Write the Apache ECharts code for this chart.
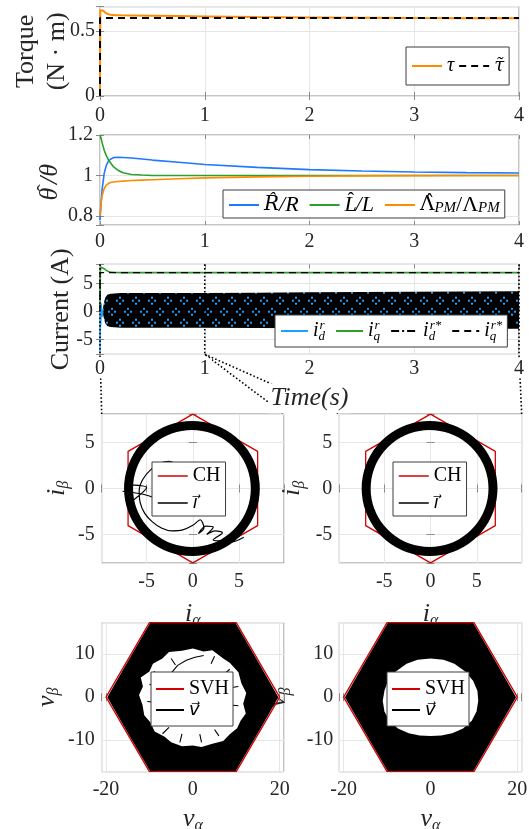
<!DOCTYPE html>
<html><head><meta charset="utf-8">
<script src="https://cdn.jsdelivr.net/npm/echarts@6/dist/echarts.min.js"></script>
<style>html,body{margin:0;padding:0;background:#fff}#c{width:529px;height:829px}</style>
</head><body><div id="c"></div>
<script>
// ---------------- data ----------------
// Panel 1: torque
const tTau = [0, 0.003, 0.006, 0.01, 0.02, 0.03, 0.05, 0.07, 0.1, 0.15, 0.2, 0.3, 0.5, 0.75, 1, 1.5, 2, 2.5, 3, 3.5, 4];
const tau = [0, 0.66, 0.675, 0.672, 0.664, 0.656, 0.642, 0.632, 0.625, 0.622, 0.621, 0.62, 0.618, 0.615, 0.612, 0.607, 0.604, 0.602, 0.6, 0.599, 0.598];
const tTauRef = [0, 0, 4];
const tauRef = [0, 0.6, 0.6];
// Panel 2: parameter estimates
const tEst = [0, 0.01, 0.02, 0.04, 0.06, 0.08, 0.1, 0.13, 0.17, 0.22, 0.3, 0.4, 0.5, 0.75, 1, 1.5, 2, 2.5, 3, 3.5, 4];
const rRatio = [0.78, 0.86, 0.93, 1.01, 1.05, 1.07, 1.08, 1.088, 1.09, 1.089, 1.086, 1.081, 1.076, 1.065, 1.054, 1.04, 1.029, 1.022, 1.017, 1.014, 1.012];
const lRatio = [1.2, 1.185, 1.162, 1.125, 1.098, 1.078, 1.063, 1.042, 1.026, 1.013, 1.005, 1.002, 1.0, 1.0, 1.0, 1.0, 1.0, 1.0, 1.0, 1.0, 1.0];
const lamRatio = [0.8, 0.86, 0.9, 0.935, 0.952, 0.96, 0.965, 0.968, 0.97, 0.972, 0.975, 0.977, 0.979, 0.984, 0.988, 0.993, 0.996, 0.998, 0.999, 1.0, 1.0];
// Panel 3: currents
const tId = [0, 0.001, 0.002, 0.003, 0.005, 0.008, 0.012, 0.02, 0.03];
const id = [0, -7.5, -2, -5, 0.5, -2.5, 1.5, -1, 0.5];
const tBand = [0.03, 0.04, 0.05, 0.07, 0.1, 0.2, 0.5, 1, 1.5, 2, 2.5, 3, 3.5, 4];
const bandUpper = [0.8, 1.8, 2.5, 3.0, 3.2, 3.35, 3.35, 3.35, 3.4, 3.45, 3.5, 3.55, 3.6, 3.65];
const bandLower = [-0.6, -1.5, -2.1, -2.6, -2.8, -2.9, -2.9, -2.9, -2.95, -3.0, -3.0, -3.05, -3.1, -3.1];
const tIq = [0, 0.002, 0.005, 0.01, 0.02, 0.04, 0.06, 0.08, 0.1, 0.15, 0.2, 0.5, 1, 2, 3, 4];
const iq = [0, 5, 8.0, 8.3, 8.1, 7.7, 7.4, 7.2, 7.1, 7.03, 7.0, 7.0, 7.0, 7.0, 7.0, 7.0];
const tIdRef = [0, 4];
const idRef = [0, 0];
const tIqRef = [0, 0, 4];
const iqRef = [0, 7.0, 7.0];
// Current hexagon (CH) and current trajectory
const chX = [0, 7, 7, 0, -7, -7, 0];
const chY = [8.083, 4.041, -4.041, -8.083, -4.041, 4.041, 8.083];
const ringX = [6.75, 6.646, 6.337, 5.832, 5.147, 4.303, 3.325, 2.243, 1.09, -0.1, -1.29, -2.443, -3.525, -4.503, -5.347, -6.032, -6.537, -6.846, -6.95, -6.846, -6.537, -6.032, -5.347, -4.503, -3.525, -2.443, -1.29, -0.1, 1.09, 2.243, 3.325, 4.303, 5.147, 5.832, 6.337, 6.646, 6.75];
const ringY = [0, 1.19, 2.343, 3.425, 4.403, 5.247, 5.932, 6.437, 6.746, 6.85, 6.746, 6.437, 5.932, 5.247, 4.403, 3.425, 2.343, 1.19, 0, -1.19, -2.343, -3.425, -4.403, -5.247, -5.932, -6.437, -6.746, -6.85, -6.746, -6.437, -5.932, -5.247, -4.403, -3.425, -2.343, -1.19, 0];
const transX = [0, -0.8, -1.8, -2.6, -3.6, -4.6, -5.4, -5.8, -5.7, -5.2, -4.4, -3.4, -2.3, -1.1, 0.0, 0.8, 1.2, 0.6, 1.4, 2.2, 1.5, 2.4, 3.2, 2.2, 3.0, 4.2, 5.5, null, -7.6, -5.5, -4.2, null, -7.3, -5.0, -6.6];
const transY = [0, 1.5, 2.6, 2.95, 2.7, 2.0, 1.0, -0.2, -1.5, -2.7, -3.6, -4.3, -4.6, -4.5, -4.0, -3.4, -4.3, -4.9, -4.1, -4.2, -5.0, -4.6, -4.8, -5.6, -5.7, -5.8, -5.3, null, -0.3, -0.6, -1.0, null, 0.4, 0.1, -1.4];
// Space vector hexagon (SVH) and voltage trajectory
const svhX = [20, 10, -10, -20, -10, 10, 20];
const svhY = [0, 17.32, 17.32, 0, -17.32, -17.32, 0];
const vFillX = [19.7, 15.4, 10.8, 9.8, -9.8, -10.8, -15.4, -19.7, -15.4, -10.8, -9.8, 9.8, 10.8, 15.4];
const vFillY = [0, 7.6, 15.6, 17.32, 17.32, 15.6, 7.6, 0, -7.6, -15.6, -17.32, -17.32, -15.6, -7.6];
const holeLX = [0, 2.5, 4.5, 7, 8.5, 10.5, 11.2, 12.3, 11.6, 12.2, 11, 10.2, 8.5, 7, 4.5, 2, 0, -2.5, -5, -6.5, -8.8, -9.8, -11.2, -11.6, -12.4, -11.5, -12, -10, -9.2, -7, -5.5, -2.5];
const holeLY = [11.3, 10.6, 10.9, 9.0, 8.0, 5.8, 3.2, 1.0, -1.5, -3.8, -5.5, -7.2, -8.6, -10.2, -10.8, -11.6, -11.2, -11.4, -10.5, -9.2, -8.0, -5.8, -4.2, -1.8, 0.5, 2.5, 4.6, 6.0, 7.8, 9.0, 10.5, 10.8];
const holeRX = [0, 3, 5.5, 8, 9.8, 10.8, 11, 10.6, 9.5, 7.5, 5, 2.5, 0, -2.5, -5, -7.5, -9.5, -10.6, -11, -10.6, -9.8, -8, -5.5, -3];
const holeRY = [9.0, 8.7, 7.8, 6.0, 3.8, 1.5, -0.8, -3.3, -5.5, -7.3, -8.4, -8.9, -9.0, -8.9, -8.4, -7.3, -5.5, -3.3, -0.8, 1.5, 3.8, 6.0, 7.8, 8.7];
const streakX = [-9, -7, null, -10, -8, null, -10.5, -8.5, null, -9.5, -7.5, null, -7, -5.5, null, -3, -2.5, null, 2, 1.6, null, 6, 5, null, 9, 7.5, null, 10.5, 8.6, null, 10.5, 8.6, null, 8.5, 7, null, 5, 4.2, null, -5, -4, null, -5, -3.5, -1.5, 0.5, 2.5];
const streakY = [6, 4.5, null, 3, 2.2, null, -1, -1.2, null, -5, -4, null, -8.5, -7, null, -10.5, -8.5, null, -10.5, -8.6, null, -9, -7.5, null, -6, -5, null, -2, -1.8, null, 2.5, 2.2, null, 6.5, 5.2, null, 9.5, 7.8, null, 9, 7.5, null, 5.6, 7.4, 8.6, 9.3, 9.7];
// Tick labels
const tTicks = [0, 1, 2, 3, 4];
const torqueTicks = [0, 0.5];
const estTicks = [0.8, 1, 1.2];
const curTicks = [-5, 0, 5];
const iTicks = [-5, 0, 5];
const vxTicks = [-20, 0, 20];
const vyTicks = [-10, 0, 10];

// ---------------- helpers ----------------
const pairs = (xs, ys) => xs.map((x, i) => (x === null ? '-' : [x, ys[i]]));
const FONT = 'Liberation Serif';
const MATHFONT = '"DejaVu Serif", "DejaVu Sans"';
const BORDER = '#8a8a8a';
const SPLIT = '#e6e6e6';
const TXT = '#262626';
const TICKFS = 20;
const C_ORANGE = '#ff8a00', C_BLUE = '#1f78ff', C_GREEN = '#2ca02c', C_RED = '#d40000', C_LBLUE = '#1e9fff';
function mkRich(fs) {
  return {
    it: {fontFamily: FONT, fontStyle: 'italic', fontSize: fs, color: '#000', lineHeight: fs + 4},
    itw: {fontFamily: FONT, fontStyle: 'italic', fontSize: fs, color: '#000', lineHeight: fs + 4, width: 3},
    hat: {fontFamily: FONT, fontSize: fs - 2, color: '#000', width: 8, verticalAlign: 'top', lineHeight: 12},
    acc: {fontFamily: MATHFONT, fontStyle: 'italic', fontSize: fs - 2, color: '#000'},
    rm: {fontFamily: FONT, fontSize: fs, color: '#000'},
    racc: {fontFamily: MATHFONT, fontSize: fs - 2, color: '#000'},
    sub: {fontFamily: FONT, fontStyle: 'italic', fontSize: Math.round(fs * 0.66), color: '#000', verticalAlign: 'bottom', lineHeight: 12},
    subs: {fontFamily: FONT, fontStyle: 'italic', fontSize: Math.round(fs * 0.66), color: '#000', verticalAlign: 'bottom', lineHeight: 12, width: 1},
    sup: {fontFamily: FONT, fontStyle: 'italic', fontSize: Math.round(fs * 0.66), color: '#000', verticalAlign: 'top', lineHeight: 12}
  };
}
const RICH = mkRich(20);
const LEG = {
  tau: '{it|τ}', tauRef: '{acc|τ̃}',
  R: '{acc|R̂}{it|/R}', L: '{itw|L}{hat|ˆ}{it|/L}', Lam: '{racc|Λ̂}{sub|PM}{rm|/Λ}{sub|PM}',
  id: '{it|i}{subs|d}{sup|r}', iq: '{it|i}{subs|q}{sup|r}', idRef: '{it|i}{subs|d}{sup|r*}', iqRef: '{it|i}{subs|q}{sup|r*}',
  CH: '{rm|CH}', ivec: '{acc|i⃗}', SVH: '{rm|SVH}', vvec: '{acc|v⃗}'
};
const fmt = ticks => v => (ticks.some(t => Math.abs(t - v) < 1e-9) ? String(v) : '');

function ax(gi, min, max, ticks, extra) {
  const o = {
    type: 'value', gridIndex: gi, min: min, max: max,
    axisLine: {show: false},
    axisTick: {show: true, inside: true, length: 4, lineStyle: {color: BORDER}},
    splitLine: {show: true, lineStyle: {color: SPLIT, width: 1}},
    axisLabel: {fontFamily: FONT, fontSize: TICKFS, color: TXT, margin: 8, formatter: fmt(ticks)}
  };
  return Object.assign(o, extra || {});
}
function merge(a, b) { return Object.assign({}, a, b); }
function lab(margin, ticks, extra) {
  return Object.assign({fontFamily: FONT, fontSize: TICKFS, color: TXT, margin: margin, formatter: fmt(ticks)}, extra || {});
}

const grids = [
  {left: 100, top: 6.7, width: 419, height: 89.3},
  {left: 100, top: 135, width: 419, height: 90},
  {left: 100, top: 264.3, width: 419, height: 90},
  {left: 101.7, top: 414, width: 182.3, height: 149},
  {left: 339.3, top: 414, width: 182.4, height: 149},
  {left: 101.7, top: 622.7, width: 182.3, height: 149},
  {left: 339.3, top: 622.7, width: 182.4, height: 149}
].map(g => Object.assign(g, {show: true, borderColor: BORDER, borderWidth: 1, backgroundColor: 'transparent',
  containLabel: false, outerBoundsMode: 'none'}));

const Y3 = [-7.7, 8.5];
const IX = [-9.85, 9.85], IY = [-8.1, 8.1], VX = [-21, 21], VY = [-17.32, 17.32];

const NFS = 26;
const nameRich = {
  it: {fontFamily: FONT, fontStyle: 'italic', fontSize: NFS, color: TXT, lineHeight: 30},
  thw: {fontFamily: FONT, fontStyle: 'italic', fontSize: NFS, color: TXT, lineHeight: 30, width: 4},
  hat: {fontFamily: FONT, fontSize: 22, color: TXT, width: 8, verticalAlign: 'top', lineHeight: 14},
  rm: {fontFamily: FONT, fontSize: NFS, color: TXT},
  sub: {fontFamily: FONT, fontStyle: 'italic', fontSize: 16, color: TXT, verticalAlign: 'bottom', lineHeight: 14}
};
function xname(n, gap) {
  return {name: n, nameLocation: 'middle', nameGap: gap,
    nameTextStyle: {fontFamily: FONT, fontSize: NFS, color: TXT, rich: nameRich}};
}
function yname(n, gap) {
  return {name: n, nameLocation: 'middle', nameGap: gap, nameRotate: 90, nameMoveOverlap: false,
    nameTextStyle: {fontFamily: FONT, fontSize: NFS, color: TXT, lineHeight: 31, rich: nameRich}};
}

const xAxes = [
  ax(0, 0, 4, tTicks, {position: 'bottom', axisLabel: lab(10, tTicks)}),
  ax(1, 0, 4, tTicks, {position: 'bottom', axisLabel: lab(7, tTicks)}),
  ax(2, 0, 4, tTicks, {position: 'bottom', axisLabel: {show: false}}),
  ax(2, 0, 4, tTicks, merge({position: 'bottom', z: 20, splitLine: {show: false}, axisTick: {show: false},
    axisLabel: lab(4, tTicks, {backgroundColor: '#fff', padding: [0, 2]})},
    {name: '{it|Time(s)}', nameLocation: 'middle', nameGap: 29,
     nameTextStyle: {fontFamily: FONT, fontSize: NFS, color: TXT, backgroundColor: '#fff', padding: [0, 2], rich: nameRich}})),
  ax(3, IX[0], IX[1], iTicks, merge({position: 'bottom', splitNumber: 4, axisLabel: lab(9, iTicks)}, xname('{it|i}{sub|α}', 36))),
  ax(4, IX[0], IX[1], iTicks, merge({position: 'bottom', splitNumber: 4, axisLabel: lab(9, iTicks)}, xname('{it|i}{sub|α}', 36))),
  ax(5, VX[0], VX[1], vxTicks, merge({position: 'bottom', splitNumber: 2, axisLabel: lab(8, vxTicks)}, xname('{it|v}{sub|α}', 32))),
  ax(6, VX[0], VX[1], vxTicks, merge({position: 'bottom', splitNumber: 2, axisLabel: lab(8, vxTicks)}, xname('{it|v}{sub|α}', 32)))
];
const yAxes = [
  ax(0, 0, 0.687, torqueTicks, merge({position: 'left', interval: 0.5, axisLabel: lab(5, torqueTicks)}, yname('Torque\n(N · m)', 27))),
  ax(1, 0.755, 1.2, estTicks, merge({position: 'left', splitNumber: 2, axisLabel: lab(7, estTicks)}, yname('{thw|θ}{hat|ˆ}{it|/θ}', 35))),
  ax(2, Y3[0], Y3[1], curTicks, merge({position: 'left', splitNumber: 3, axisLabel: lab(7, curTicks)}, yname('Current (A)', 23))),
  ax(3, IY[0], IY[1], iTicks, merge({position: 'left', splitNumber: 3, axisLabel: lab(7, iTicks)}, yname('{it|i}{sub|β}', 30))),
  ax(4, IY[0], IY[1], iTicks, merge({position: 'left', splitNumber: 3, axisLabel: lab(7, iTicks)}, yname('{it|i}{sub|β}', 32))),
  ax(5, VY[0], VY[1], vyTicks, merge({position: 'left', splitNumber: 3, axisLabel: lab(7, vyTicks)}, yname('{it|v}{sub|β}', 40))),
  ax(6, VY[0], VY[1], vyTicks, merge({position: 'left', splitNumber: 3, axisLabel: lab(6, vyTicks)}, yname('{it|v}{sub|β}', 46)))
];
// mirrored tick marks on top/right edges (box style)
const mirX = [[0, 0, 4, {}], [1, 0, 4, {}], [2, 0, 4, {}], [3, IX[0], IX[1], {splitNumber: 4}], [4, IX[0], IX[1], {splitNumber: 4}], [5, VX[0], VX[1], {splitNumber: 2}], [6, VX[0], VX[1], {splitNumber: 2}]];
mirX.forEach(m => xAxes.push(Object.assign({type: 'value', gridIndex: m[0], min: m[1], max: m[2], position: 'top',
  axisLine: {show: false}, splitLine: {show: false}, axisLabel: {show: false},
  axisTick: {show: true, inside: true, length: 4, lineStyle: {color: BORDER}}}, m[3])));
const mirY = [[0, 0, 0.687, {interval: 0.5}], [1, 0.755, 1.2, {splitNumber: 2}], [2, Y3[0], Y3[1], {splitNumber: 3}], [3, IY[0], IY[1], {splitNumber: 3}], [4, IY[0], IY[1], {splitNumber: 3}], [5, VY[0], VY[1], {splitNumber: 3}], [6, VY[0], VY[1], {splitNumber: 3}]];
mirY.forEach(m => yAxes.push(Object.assign({type: 'value', gridIndex: m[0], min: m[1], max: m[2], position: 'right',
  axisLine: {show: false}, splitLine: {show: false}, axisLabel: {show: false},
  axisTick: {show: true, inside: true, length: 4, lineStyle: {color: BORDER}}}, m[3])));

// pattern for the dense oscillation band (aliasing diamonds)
const pc = document.createElement('canvas');
pc.width = 16; pc.height = 22;
const pctx = pc.getContext('2d');
pctx.fillStyle = '#000'; pctx.fillRect(0, 0, 16, 22);
pctx.fillStyle = C_LBLUE;
const diamond = (cx, cy) => [[0, -3], [-3, 0], [3, 0], [0, 3]].forEach(d => pctx.fillRect(cx + d[0] - 1, cy + d[1] - 1, 2, 2));
diamond(8, 14.7); diamond(0, 3.7); diamond(16, 3.7);

function polySeries(name, xi, yi, xs, ys, fill, z) {
  return {
    name: name, type: 'custom', xAxisIndex: xi, yAxisIndex: yi, z: z || 2, data: [[xs[0], ys[0]]], silent: true,
    renderItem: (params, api) => ({
      type: 'polygon',
      shape: {points: xs.map((x, i) => api.coord([x, ys[i]]))},
      style: {fill: fill, stroke: null}
    })
  };
}
function lineS(name, xi, yi, data, color, width, type, extra) {
  return Object.assign({
    name: name, type: 'line', xAxisIndex: xi, yAxisIndex: yi, data: data,
    symbol: 'none', showSymbol: false, connectNulls: false, animation: false,
    lineStyle: {color: color, width: width, type: type || 'solid'}, itemStyle: {color: color}
  }, extra || {});
}

const bandXs = tBand.concat(tBand.slice().reverse());
const bandYs = bandUpper.concat(bandLower.slice().reverse());

const series = [
  lineS('tau', 0, 0, pairs(tTau, tau), C_ORANGE, 2),
  lineS('tauRef', 0, 0, pairs(tTauRef, tauRef), '#000', 2, [7, 5]),
  lineS('R', 1, 1, pairs(tEst, rRatio), C_BLUE, 1.6),
  lineS('L', 1, 1, pairs(tEst, lRatio), C_GREEN, 1.6),
  lineS('Lam', 1, 1, pairs(tEst, lamRatio), C_ORANGE, 1.6),
  lineS('id', 2, 2, pairs(tId, id), C_LBLUE, 1.2),
  lineS('iq', 2, 2, pairs(tIq, iq), C_GREEN, 1.6),
  polySeries('idBand', 2, 2, bandXs, bandYs, {image: pc, repeat: 'repeat'}, 3),
  lineS('idRef', 2, 2, pairs(tIdRef, idRef), '#000', 1.2, [8, 3, 2, 3], {z: 1}),
  lineS('iqRef', 2, 2, pairs(tIqRef, iqRef), '#000', 1.4, [7, 5], {z: 4}),
  lineS('CH', 4, 3, pairs(chX, chY), C_RED, 1.3),
  lineS('ivec', 4, 3, pairs(transX, transY), '#000', 1.2, 'solid', {smooth: 0.3}),
  lineS('ivec', 4, 3, pairs(ringX, ringY), '#000', 9, 'solid', {smooth: true}),
  lineS('CH', 5, 4, pairs(chX, chY), C_RED, 1.3),
  lineS('ivec', 5, 4, pairs(ringX, ringY), '#000', 9, 'solid', {smooth: true}),
  polySeries('vFill', 6, 5, vFillX, vFillY, '#000', 1),
  polySeries('vHole', 6, 5, holeLX, holeLY, '#fff', 1.5),
  lineS('vvec', 6, 5, pairs(streakX, streakY), '#000', 1.1, 'solid', {z: 2}),
  lineS('SVH', 6, 5, pairs(svhX, svhY), C_RED, 1.3, 'solid', {z: 3}),
  polySeries('vFill', 7, 6, vFillX, vFillY, '#000', 1),
  polySeries('vHole', 7, 6, holeRX, holeRY, '#fff', 1.5),
  lineS('SVH', 7, 6, pairs(svhX, svhY), C_RED, 1.3, 'solid', {z: 3})
];

const legBase = {
  backgroundColor: '#fff', borderColor: '#3c3c3c', borderWidth: 1,
  itemWidth: 30, itemHeight: 14, itemGap: 4, padding: [4, 5],
  itemStyle: {opacity: 0}, selectedMode: false,
  textStyle: {fontFamily: FONT, fontSize: 20, color: '#000', rich: RICH},
  formatter: n => LEG[n] || n
};
const legends = [
  merge(legBase, {left: 406, top: 47, data: ['tau', 'tauRef'], padding: [9, 5]}),
  merge(legBase, {left: 223, top: 190, data: ['R', 'L', 'Lam'], padding: [2, 5], itemGap: 10,
    textStyle: {fontFamily: FONT, fontSize: 22, color: '#000', rich: mkRich(22)}}),
  merge(legBase, {left: 275, top: 315, data: ['id', 'iq', 'idRef', 'iqRef'], itemWidth: 27, itemGap: 10}),
  merge(legBase, {left: 152, top: 462, orient: 'vertical', itemGap: 8, data: ['CH', 'ivec'], lineStyle: {width: 1.5}}),
  merge(legBase, {left: 393, top: 462, orient: 'vertical', itemGap: 8, data: ['CH', 'ivec'], lineStyle: {width: 1.5}}),
  merge(legBase, {left: 151, top: 672, orient: 'vertical', itemGap: 2, itemWidth: 28, padding: [7, 4], data: ['SVH', 'vvec'], lineStyle: {width: 2}}),
  merge(legBase, {left: 387, top: 672, orient: 'vertical', itemGap: 2, itemWidth: 28, padding: [7, 4], data: ['SVH', 'vvec'], lineStyle: {width: 2}})
];

const chart = echarts.init(document.getElementById('c'), null, {renderer: 'canvas', width: 529, height: 829});
chart.setOption({
  animation: false,
  backgroundColor: '#fff',
  grid: grids, xAxis: xAxes, yAxis: yAxes, legend: legends, series: series
});

// zoom connector lines, positioned through the axes' own scales
const P = (gi, pt) => chart.convertToPixel({gridIndex: gi}, pt);
const b0 = P(2, [0, Y3[0]]), b1 = P(2, [1, Y3[0]]), b4 = P(2, [4, Y3[0]]);
const u0 = P(2, [0, Y3[1]]), u1 = P(2, [1, Y3[1]]), u4 = P(2, [4, Y3[1]]);
const lTL = P(3, [IX[0], IY[1]]), lTR = P(3, [IX[1], IY[1]]);
const rTL = P(4, [IX[0], IY[1]]), rTR = P(4, [IX[1], IY[1]]);
const dot = {stroke: '#000', lineWidth: 1.6, lineDash: [1.6, 2.2], fill: null};
const polys = [[u0, b0, lTL], [u1, b1, lTR], [b1, rTL], [u4, b4, rTR]];
chart.setOption({
  graphic: polys.map(pts => ({type: 'polyline', z: 10, silent: true, shape: {points: pts}, style: dot}))
});
</script></body></html>
